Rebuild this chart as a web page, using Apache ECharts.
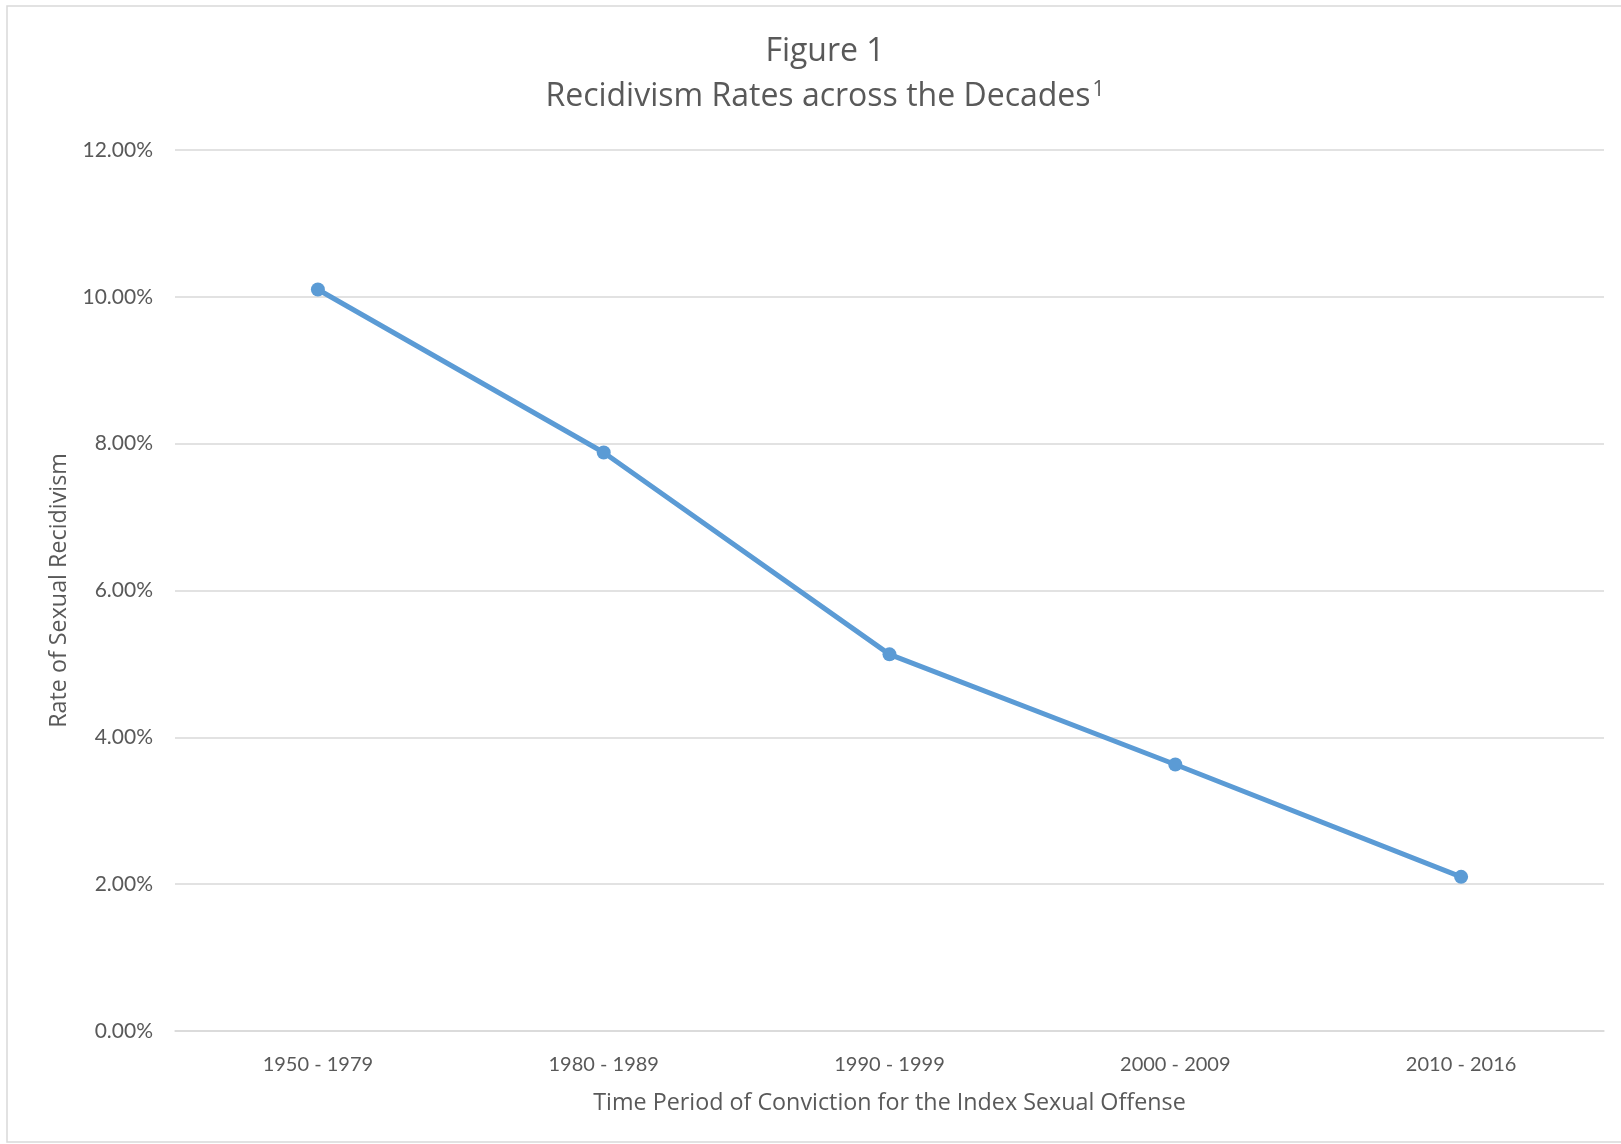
<!DOCTYPE html>
<html>
<head>
<meta charset="utf-8">
<script src="https://cdn.jsdelivr.net/npm/echarts@6/dist/echarts.min.js"></script>
<style>
  html, body { margin: 0; padding: 0; background: #fff; }
  #chart { width: 1621px; height: 1144px; }
</style>
</head>
<body>
<div id="chart"></div>
<script>
// Time periods of conviction and the sexual recidivism rate (%) for each
const periods = ['1950 - 1979', '1980 - 1989', '1990 - 1999', '2000 - 2009', '2010 - 2016'];
const recidivismRates = [10.1, 7.88, 5.13, 3.63, 2.10];
const yTicks = [0, 2, 4, 6, 8, 10, 12];

const LABEL_FONT = 'Lato, "Noto Sans", sans-serif';
const TEXT_FONT = '"Open Sans", "Noto Sans", sans-serif';
const TEXT_GREY = '#595959';
const GRID_GREY = '#d9d9d9';
const LINE_BLUE = '#5B9BD5';

const chart = echarts.init(document.getElementById('chart'), null, { renderer: 'canvas' });

chart.setOption({
  backgroundColor: '#ffffff',
  animation: false,
  graphic: [{
    type: 'rect',
    silent: true,
    shape: { x: 7, y: 6, width: 1625, height: 1136 },
    style: { fill: 'none', stroke: GRID_GREY, lineWidth: 1.5 }
  }],
  title: {
    text: 'Figure 1\nRecidivism Rates across the Decades{sup|1}',
    left: 820,
    top: 24,
    textAlign: 'center',
    textStyle: {
      fontFamily: TEXT_FONT,
      fontSize: 32,
      fontWeight: 'normal',
      color: TEXT_GREY,
      lineHeight: 45,
      rich: {
        sup: { fontFamily: TEXT_FONT, fontSize: 21, color: TEXT_GREY, verticalAlign: 'top', lineHeight: 21, padding: [6, 0, 0, 2] }
      }
    }
  },
  grid: { left: 175, right: 17, top: 150, bottom: 113, containLabel: false },
  xAxis: {
    type: 'category',
    data: periods,
    boundaryGap: true,
    name: 'Time Period of Conviction for the Index Sexual Offense',
    nameLocation: 'middle',
    nameGap: 61,
    nameTextStyle: { fontFamily: TEXT_FONT, fontSize: 23.3, color: TEXT_GREY },
    axisLine: { show: true, lineStyle: { color: GRID_GREY, width: 1.5 } },
    axisTick: { show: false },
    axisLabel: { fontFamily: LABEL_FONT, fontSize: 20, color: TEXT_GREY, margin: 24 }
  },
  yAxis: {
    type: 'value',
    min: yTicks[0],
    max: yTicks[yTicks.length - 1],
    interval: yTicks[1] - yTicks[0],
    name: 'Rate of Sexual Recidivism',
    nameLocation: 'middle',
    nameGap: 104,
    nameRotate: 90,
    nameTextStyle: { fontFamily: TEXT_FONT, fontSize: 23.3, color: TEXT_GREY },
    axisLine: { show: false },
    axisTick: { show: false },
    splitLine: { show: true, lineStyle: { color: GRID_GREY, width: 1.5 } },
    axisLabel: {
      fontFamily: LABEL_FONT, fontSize: 21, color: TEXT_GREY, margin: 22,
      formatter: v => v.toFixed(2) + '%'
    }
  },
  series: [{
    type: 'line',
    data: recidivismRates,
    symbol: 'circle',
    symbolSize: 14,
    lineStyle: { color: LINE_BLUE, width: 5, cap: 'round', join: 'round' },
    itemStyle: { color: LINE_BLUE },
    label: { show: false }
  }]
});
</script>
</body>
</html>
